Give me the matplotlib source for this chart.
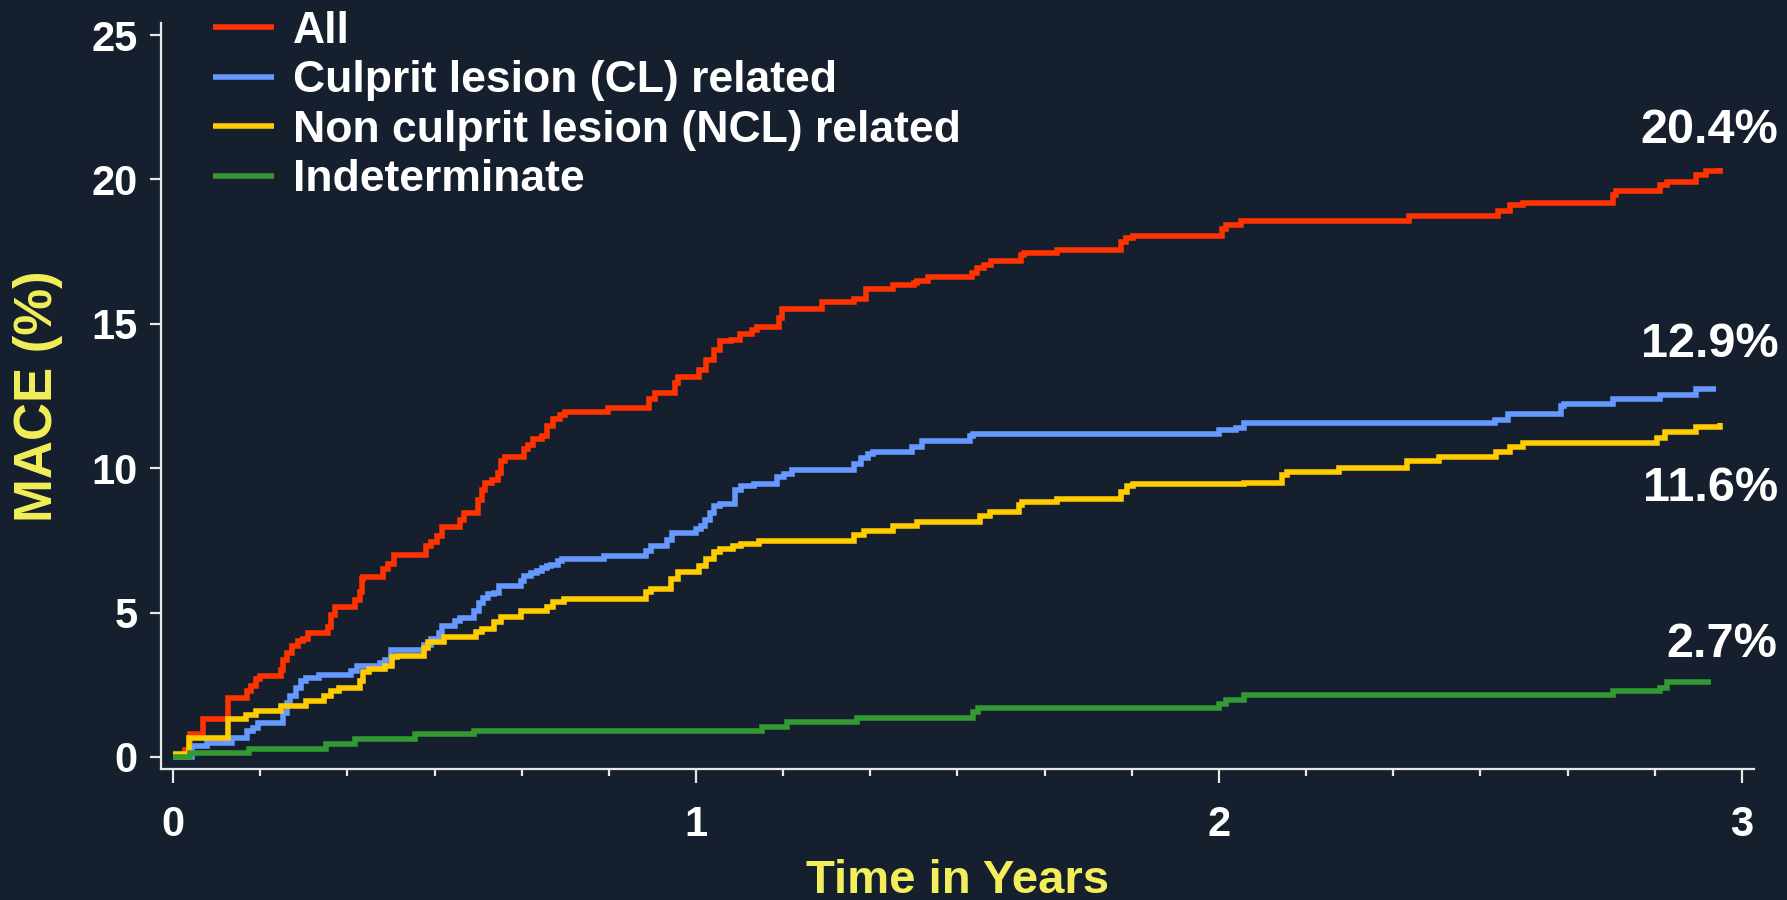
import numpy as np
import matplotlib
matplotlib.use('Agg')
import matplotlib.pyplot as plt
from matplotlib.ticker import MultipleLocator, FixedLocator

plt.rcParams['font.family'] = ['Liberation Sans', 'DejaVu Sans']
plt.rcParams['font.weight'] = 'bold'

# step curves: (time in years, cumulative MACE %)
t_all = [0.000, 0.023, 0.033, 0.057, 0.105, 0.142, 0.149, 0.159, 0.166, 0.207, 0.211, 0.217,
         0.228, 0.238, 0.248, 0.259, 0.296, 0.303, 0.310, 0.347, 0.357, 0.361, 0.364, 0.402,
         0.412, 0.422, 0.484, 0.494, 0.504, 0.515, 0.549, 0.556, 0.583, 0.590, 0.597, 0.610,
         0.621, 0.627, 0.634, 0.672, 0.679, 0.689, 0.706, 0.716, 0.726, 0.740, 0.750, 0.832,
         0.911, 0.921, 0.959, 0.965, 1.006, 1.020, 1.034, 1.046, 1.067, 1.084, 1.107, 1.117,
         1.158, 1.164, 1.241, 1.302, 1.325, 1.376, 1.416, 1.423, 1.443, 1.527, 1.537, 1.550,
         1.564, 1.621, 1.627, 1.691, 1.812, 1.822, 1.835, 2.006, 2.013, 2.043, 2.363, 2.534,
         2.556, 2.581, 2.754, 2.760, 2.843, 2.856, 2.913, 2.932, 2.958]
v_all = [0.0, 0.25, 0.8, 1.3, 2.05, 2.3, 2.45, 2.7, 2.8, 3.0, 3.35, 3.6,
         3.85, 4.0, 4.1, 4.3, 4.5, 4.9, 5.2, 5.45, 5.7, 6.15, 6.25, 6.5,
         6.7, 7.0, 7.3, 7.45, 7.65, 7.95, 8.2, 8.45, 8.9, 9.25, 9.5, 9.6,
         9.85, 10.25, 10.4, 10.65, 10.8, 11.0, 11.1, 11.45, 11.7, 11.85, 11.95, 12.1,
         12.4, 12.6, 12.95, 13.15, 13.4, 13.75, 14.1, 14.4, 14.45, 14.65, 14.8, 14.9,
         15.2, 15.5, 15.75, 15.85, 16.2, 16.35, 16.4, 16.5, 16.62, 16.75, 16.92, 17.05,
         17.18, 17.38, 17.45, 17.57, 17.83, 17.96, 18.05, 18.3, 18.42, 18.57, 18.74, 18.9,
         19.1, 19.2, 19.45, 19.6, 19.8, 19.9, 20.15, 20.3, 20.4]

t_cl = [0.000, 0.037, 0.064, 0.112, 0.142, 0.153, 0.163, 0.211, 0.217, 0.224, 0.235, 0.245,
        0.255, 0.279, 0.340, 0.351, 0.395, 0.405, 0.416, 0.480, 0.494, 0.508, 0.515, 0.539,
        0.549, 0.576, 0.586, 0.593, 0.603, 0.614, 0.624, 0.665, 0.672, 0.685, 0.696, 0.706,
        0.716, 0.723, 0.737, 0.743, 0.825, 0.904, 0.914, 0.945, 0.955, 1.000, 1.010, 1.017,
        1.027, 1.034, 1.045, 1.074, 1.087, 1.111, 1.154, 1.168, 1.184, 1.302, 1.315, 1.329,
        1.339, 1.413, 1.433, 1.523, 1.530, 2.000, 2.033, 2.047, 2.527, 2.553, 2.655, 2.660,
        2.754, 2.843, 2.913, 2.951]
v_cl = [0.0, 0.37, 0.5, 0.65, 0.9, 1.0, 1.18, 1.53, 1.87, 2.1, 2.4, 2.62,
        2.74, 2.85, 2.97, 3.14, 3.26, 3.37, 3.72, 3.89, 4.07, 4.3, 4.53, 4.7,
        4.82, 5.05, 5.34, 5.51, 5.63, 5.68, 5.91, 6.09, 6.26, 6.38, 6.43, 6.55,
        6.61, 6.66, 6.78, 6.84, 6.95, 7.13, 7.3, 7.53, 7.76, 7.88, 7.99, 8.22,
        8.45, 8.68, 8.75, 9.25, 9.38, 9.47, 9.7, 9.8, 9.95, 10.16, 10.35, 10.48,
        10.55, 10.74, 10.94, 11.13, 11.2, 11.33, 11.4, 11.56, 11.68, 11.89, 12.17, 12.24,
        12.38, 12.55, 12.73, 12.73]

t_ncl = [0.000, 0.030, 0.105, 0.139, 0.159, 0.207, 0.255, 0.289, 0.303, 0.317, 0.357, 0.364,
         0.375, 0.405, 0.419, 0.429, 0.480, 0.487, 0.518, 0.579, 0.590, 0.614, 0.627, 0.665,
         0.716, 0.726, 0.747, 0.904, 0.914, 0.952, 0.965, 1.006, 1.020, 1.034, 1.046, 1.070,
         1.087, 1.120, 1.302, 1.322, 1.376, 1.423, 1.543, 1.563, 1.617, 1.624, 1.691, 1.812,
         1.825, 1.835, 2.047, 2.120, 2.130, 2.230, 2.360, 2.420, 2.530, 2.556, 2.581, 2.837,
         2.853, 2.913, 2.958]
v_ncl = [0.12, 0.65, 1.3, 1.45, 1.6, 1.77, 1.94, 2.12, 2.29, 2.4, 2.64, 2.93,
         3.04, 3.16, 3.45, 3.5, 3.79, 3.97, 4.14, 4.32, 4.43, 4.66, 4.84, 5.07,
         5.18, 5.36, 5.47, 5.71, 5.82, 6.17, 6.4, 6.63, 6.86, 7.09, 7.2, 7.3,
         7.37, 7.49, 7.69, 7.82, 8.01, 8.14, 8.34, 8.47, 8.73, 8.82, 8.92, 9.18,
         9.38, 9.44, 9.5, 9.76, 9.86, 10.02, 10.26, 10.4, 10.57, 10.75, 10.89, 11.03,
         11.25, 11.43, 11.57]

t_ind = [0.000, 0.033, 0.146, 0.293, 0.347, 0.463, 0.576, 1.127, 1.174, 1.308, 1.530, 1.540,
         2.000, 2.013, 2.047, 2.754, 2.843, 2.856, 2.940]
v_ind = [0.0, 0.15, 0.26, 0.44, 0.61, 0.78, 0.9, 1.05, 1.22, 1.35, 1.55, 1.7,
         1.83, 1.96, 2.15, 2.27, 2.4, 2.6, 2.6]

labels = ['All', 'Culprit lesion (CL) related', 'Non culprit lesion (NCL) related', 'Indeterminate']
end_labels = ['20.4%', '12.9%', '11.6%', '2.7%']
colors = ['#ff3300', '#6699ff', '#ffcc00', '#339933']

bg = '#151f2e'
yellow = '#f3ef5a'

fig = plt.figure(figsize=(17.87, 9.0), dpi=100, facecolor=bg)
ax = fig.add_axes([0.0901, 0.1456, 0.8914, 0.8289], facecolor=bg)

series = [(t_all, v_all), (t_cl, v_cl), (t_ncl, v_ncl), (t_ind, v_ind)]
offsets = [(42, 27), (45, 32), (42, -47), (48, 27)]
handles = []
for k, (t, v) in enumerate(series):
    ln, = ax.step(t, v, where='post', color=colors[k], lw=4.0, zorder=2 + k,
                  solid_joinstyle='miter', solid_capstyle='butt', label=labels[k])
    handles.append(ln)
    ax.annotate(end_labels[k], xy=(t[-1], v[-1]), xytext=offsets[k],
                textcoords='offset points', ha='right', va='center',
                color='white', fontsize=35, fontweight='bold', annotation_clip=False)

ax.set_xlim(-0.023, 3.023)
ax.set_ylim(-0.415, 25.42)

ax.xaxis.set_major_locator(FixedLocator([0, 1, 2, 3]))
ax.xaxis.set_minor_locator(MultipleLocator(1 / 6))
ax.yaxis.set_major_locator(FixedLocator([0, 5, 10, 15, 20, 25]))

for s in ['top', 'right']:
    ax.spines[s].set_visible(False)
for s in ['left', 'bottom']:
    ax.spines[s].set_color('#e8e8e8')
    ax.spines[s].set_linewidth(1.6)

ax.tick_params(axis='x', which='major', direction='out', length=10, width=1.6,
               colors='#e8e8e8', labelcolor='white', labelsize=30, pad=16)
ax.tick_params(axis='x', which='minor', direction='out', length=5, width=1.6, colors='#e8e8e8')
ax.tick_params(axis='y', which='major', direction='out', length=8, width=1.6,
               colors='#e8e8e8', labelcolor='white', labelsize=30, pad=9)
for lab in ax.get_xticklabels() + ax.get_yticklabels():
    lab.set_fontweight('bold')

ax.set_xlabel('Time in Years', color=yellow, fontsize=34, fontweight='bold', labelpad=10)
ax.set_ylabel('MACE (%)', color=yellow, fontsize=38, fontweight='bold', labelpad=20)

leg = fig.legend(handles=handles, loc='upper left', bbox_to_anchor=(213 / 1787, 0.988),
                 frameon=False, fontsize=32, handlelength=1.37, handletextpad=0.43,
                 labelspacing=0.19, borderpad=0, borderaxespad=0)
for txt in leg.get_texts():
    txt.set_color('white')
    txt.set_fontweight('bold')
for lh in leg.get_lines():
    lh.set_linewidth(4)

fig.savefig('out.png', dpi=100, facecolor=bg)
